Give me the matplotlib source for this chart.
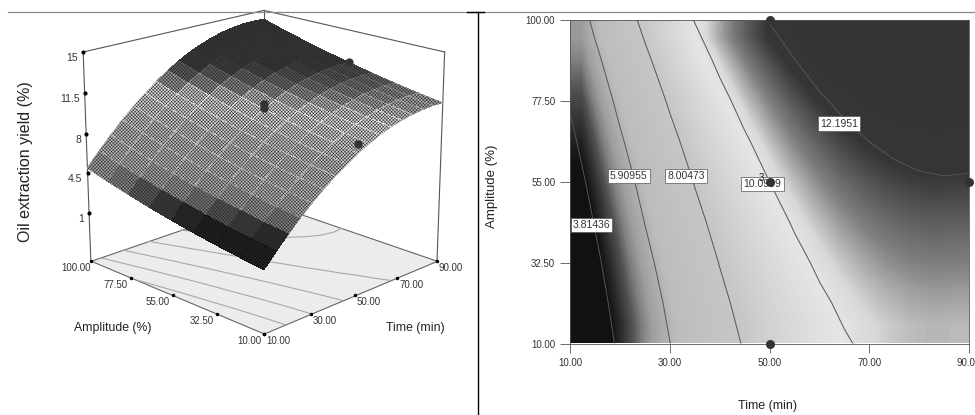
import numpy as np
import matplotlib
matplotlib.use('Agg')
import matplotlib.pyplot as plt
from matplotlib.colors import LinearSegmentedColormap, Normalize
from matplotlib.lines import Line2D
from mpl_toolkits.mplot3d import proj3d
from mpl_toolkits.mplot3d.art3d import Poly3DCollection

plt.rcParams['font.family'] = ['Liberation Sans', 'DejaVu Sans']
plt.rcParams['hatch.linewidth'] = 0.35

time_grid = [10, 15, 20, 25, 30, 35, 40, 45, 50, 55, 60, 65, 70, 75, 80, 85, 90]
amp_grid = [100, 88.75, 77.5, 66.25, 55, 43.75, 32.5, 21.25, 10]
yield_grid = [
    [4.96, 6.17, 7.28, 8.32, 9.27, 10.14, 10.93, 11.63, 12.25, 12.79, 13.23, 13.60, 13.89, 14.08, 14.20, 14.23, 14.18],
    [4.43, 5.62, 6.72, 7.75, 8.69, 9.55, 10.33, 11.03, 11.64, 12.17, 12.63, 12.99, 13.27, 13.47, 13.60, 13.64, 13.59],
    [3.95, 5.11, 6.21, 7.22, 8.15, 9.01, 9.78, 10.47, 11.08, 11.61, 12.06, 12.43, 12.71, 12.92, 13.05, 13.09, 13.06],
    [3.50, 4.66, 5.74, 6.75, 7.66, 8.51, 9.28, 9.96, 10.57, 11.10, 11.54, 11.91, 12.20, 12.41, 12.54, 12.58, 12.56],
    [3.10, 4.25, 5.31, 6.31, 7.22, 8.06, 8.81, 9.50, 10.10, 10.62, 11.07, 11.44, 11.72, 11.93, 12.07, 12.13, 12.10],
    [2.74, 3.88, 4.94, 5.93, 6.82, 7.65, 8.41, 9.08, 9.68, 10.20, 10.65, 11.01, 11.30, 11.51, 11.64, 11.70, 11.68],
    [2.42, 3.54, 4.60, 5.57, 6.47, 7.29, 8.04, 8.70, 9.30, 9.82, 10.26, 10.63, 10.91, 11.13, 11.26, 11.32, 11.30],
    [2.14, 3.26, 4.30, 5.26, 6.15, 6.98, 7.72, 8.38, 8.97, 9.48, 9.92, 10.28, 10.57, 10.78, 10.92, 10.98, 10.96],
    [1.89, 3.00, 4.04, 5.01, 5.89, 6.70, 7.44, 8.10, 8.69, 9.20, 9.64, 10.00, 10.29, 10.50, 10.64, 10.70, 10.67],
]

levels = [3.81436, 5.90955, 8.00473, 10.0999, 12.1951]
level_labels = ['3.81436', '5.90955', '8.00473', '10.0999', '12.1951']
label_time = [14.3, 21.8, 33.3, 48.6, 64.0]
label_amp = [43.0, 56.7, 56.7, 54.4, 71.2]

point_time = [50, 50, 50, 90, 10, 50]
point_amp = [100, 55, 10, 55, 55, 55]
point_yield = [12.25, 10.6, 9.5, 12.2, 3.7, 10.2]

time_ticks = [10, 30, 50, 70, 90]
amp_ticks = [10, 32.5, 55, 77.5, 100]
z_ticks = [1, 4.5, 8, 11.5, 15]
z_labels = ['1', '4.5', '8', '11.5', '15']
z_floor = -3.4

grey_z = [1.0, 3.3, 3.8, 4.2, 4.6, 5.0, 5.9, 8.0, 9.0, 10.0, 10.4, 10.7, 11.2, 11.7, 12.2, 15.0]
grey_v = [0.07, 0.07, 0.20, 0.32, 0.50, 0.62, 0.74, 0.78, 0.84, 0.90, 0.85, 0.72, 0.50, 0.35, 0.21, 0.20]

Z = np.array(yield_grid)
T, A = np.meshgrid(time_grid, amp_grid)
norm = Normalize(1, 15)
stops = [((z - 1) / 14, (v, v, v)) for z, v in zip(grey_z, grey_v)]
cmap = LinearSegmentedColormap.from_list('yield_grey', stops, N=512)

fig = plt.figure(figsize=(9.75, 4.15), dpi=100)

# left panel, response surface
ax = fig.add_axes([-0.016, 0.022, 0.56, 1.16], projection='3d', computed_zorder=False)
ax.set_proj_type('persp', focal_length=0.62)
ax.view_init(elev=18.5, azim=-135)
ax.set_box_aspect((1, 1, 0.88), zoom=0.84)
ax.set_xlim(10, 90)
ax.set_ylim(10, 100)
ax.set_zlim(z_floor, 15)
ax.set_axis_off()

floor = Poly3DCollection([[(10, 10, z_floor), (90, 10, z_floor), (90, 100, z_floor), (10, 100, z_floor)]],
                         facecolor='#ececec', edgecolor='#666666', linewidth=0.8, zorder=1)
ax.add_collection3d(floor)
ax.contour(T, A, Z, levels=levels, zdir='z', offset=z_floor, colors='#a8a8a8', linewidths=0.8, zorder=2)

box = '#555555'
ax.plot([10, 10], [100, 100], [z_floor, 15], color=box, lw=0.8, zorder=3)
ax.plot([90, 90], [10, 10], [z_floor, 15], color=box, lw=0.8, zorder=3)
ax.plot([90, 90], [100, 100], [z_floor, 15], color=box, lw=0.8, zorder=3)
ax.plot([10, 90], [100, 100], [15, 15], color=box, lw=0.8, zorder=3)
ax.plot([90, 90], [10, 100], [15, 15], color=box, lw=0.8, zorder=3)

surf = ax.plot_surface(T, A, Z, cmap=cmap, norm=norm, shade=False, rstride=1, cstride=1,
                       linewidth=0, antialiased=False, zorder=4)
surf.set_edgecolor('#2a2a2a')
surf.set_hatch('xxxxxxxxxx')

ax.plot(point_time[1:], point_amp[1:], point_yield[1:], 'o', color='#333333', ms=6, mec='none', zorder=5)


def tick_label(x, y, z, s, dx, dy, size, ha='center'):
    # offsets are in pixels, from the projected tick
    px, py, _ = proj3d.proj_transform(x, y, z, ax.get_proj())
    ax.annotate(s, (px, py), xytext=(dx * 0.72, -dy * 0.72), textcoords='offset points',
                fontsize=size, color='#333333', ha=ha, va='center')


for v, s in zip(z_ticks, z_labels):
    ax.plot([10], [100], [v], 'o', color='black', ms=2, zorder=5)
    tick_label(10, 100, v, s, -5, 6, 7.5, ha='right')
for v in time_ticks:
    ax.plot([v], [10], [z_floor], 'o', color='black', ms=1.5, zorder=5)
    tick_label(v, 10, z_floor, f'{v:.2f}', 14, 7, 7)
for v in amp_ticks:
    ax.plot([10], [v], [z_floor], 'o', color='black', ms=1.5, zorder=5)
    tick_label(10, v, z_floor, f'{v:.2f}', -15, 7, 7)

fig.text(26 / 975, 1 - 162 / 415, 'Oil extraction yield (%)', rotation=90, fontsize=11.5, color='#222222', ha='center', va='center')
fig.text(113 / 975, 1 - 328 / 415, 'Amplitude (%)', fontsize=8.8, color='#222222', ha='center', va='center')
fig.text(415 / 975, 1 - 328 / 415, 'Time (min)', fontsize=8.8, color='#222222', ha='center', va='center')

# right panel, contour map
ax2 = fig.add_axes([570 / 975, 1 - 343.5 / 415, 399 / 975, 323.5 / 415])
ax2.imshow(Z, extent=(10, 90, 10, 100), aspect='auto', cmap=cmap, norm=norm, interpolation='bilinear')
ax2.contour(T, A, Z, levels=levels, colors='#555555', linewidths=0.7)
ax2.plot(point_time[:4], point_amp[:4], 'o', color='#333333', ms=6.5, mec='none', clip_on=False, zorder=5)
ax2.text(48.4, 56, '3', fontsize=7, color='#222222', ha='center', va='center', zorder=6)
for t, a, s in zip(label_time, label_amp, level_labels):
    ax2.text(t, a, s, fontsize=7.5, color='#333333', ha='center', va='center', zorder=4,
             bbox=dict(boxstyle='square,pad=0.2', fc='white', ec='#555555', lw=0.5))
ax2.set_xlim(10, 90)
ax2.set_ylim(10, 100)
ax2.set_xticks(time_ticks)
ax2.set_yticks(amp_ticks)
ax2.set_xticklabels([f'{v:.2f}' for v in time_ticks], fontsize=7, color='#333333')
ax2.set_yticklabels([f'{v:.2f}' for v in amp_ticks], fontsize=7, color='#333333')
ax2.tick_params(axis='x', length=6.5, width=0.6, color='#555555', pad=4)
ax2.tick_params(axis='y', length=7, width=0.6, color='#555555', pad=3.6)
for spine in ax2.spines.values():
    spine.set_linewidth(0.6)
    spine.set_color('#555555')
fig.text(768 / 975, 1 - 406 / 415, 'Time (min)', fontsize=9, color='#222222', ha='center', va='center')
fig.text(492 / 975, 1 - 186 / 415, 'Amplitude (%)', rotation=90, fontsize=9.5, color='#222222', ha='center', va='center')

# page rules from the source figure
fig.add_artist(Line2D([8 / 975, 1], [1 - 12.5 / 415] * 2, color='#888888', lw=0.9))
fig.add_artist(Line2D([467 / 975, 484 / 975], [1 - 12.5 / 415] * 2, color='black', lw=1.0))
fig.add_artist(Line2D([478 / 975] * 2, [0, 1 - 12.5 / 415], color='black', lw=1.0))

fig.savefig('out.png', dpi=100)
